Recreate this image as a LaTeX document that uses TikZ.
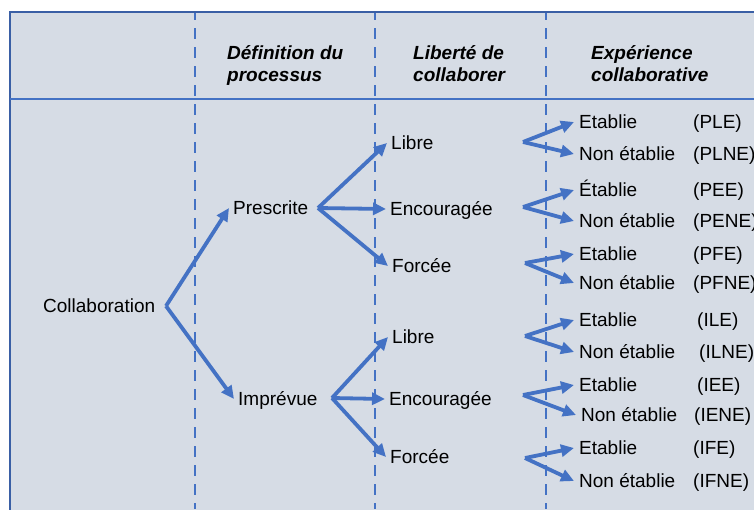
\documentclass[tikz,border=0pt]{standalone}
\usepackage{fontspec}
\setmainfont{Liberation Sans}
\usetikzlibrary{arrows.meta}
\definecolor{bgfill}{HTML}{D6DCE5}
\definecolor{accent}{HTML}{4472C4}
\definecolor{framecol}{HTML}{3A5FA5}
\begin{document}
\begin{tikzpicture}[x=1pt,y=-1pt,
  lbl/.style={font=\fontsize{19}{22}\selectfont, anchor=west, inner xsep=4pt, inner ysep=0pt, text height=13.6pt, text depth=0pt},
  lblt/.style={lbl, inner xsep=5pt},
  code/.style={lbl, inner xsep=0pt},
  hdr/.style={font=\fontsize{19}{22}\selectfont\bfseries\itshape, anchor=north west, inner sep=0pt, align=left},
  arr/.style={draw=accent, line width=3.8pt, -{Triangle[length=13pt,width=12pt]}, fill=accent},
  sep/.style={draw=accent, line width=2.6pt, dash pattern=on 11pt off 8pt, dash phase=4pt}
]
\useasboundingbox (0,0) rectangle (754,509);
\clip (0,0) rectangle (754,509);
% frame
\fill[bgfill] (10,12) rectangle (760,515);
\draw[framecol, line width=2.6pt] (10,515) -- (10,12) -- (760,12);
\draw[accent, line width=1.8pt] (10,99) -- (760,99);
\draw[sep] (195,13) -- (195,509);
\draw[sep] (375,13) -- (375,509);
\draw[sep] (546,13) -- (546,509);
% headers
\node[hdr] (h1) at (227,45) {Définition du\\processus};
\node[hdr] (h2) at (413,45) {Liberté de\\collaborer};
\node[hdr] (h3) at (591,45) {Expérience\\collaborative};
% level 1
\node[lbl] (collab) at (39,306) {Collaboration};
\coordinate (b0) at (166,306);
% level 2
\node[lbl] (presc) at (229,208) {Prescrite};
\node[lbl] (impr) at (234,399) {Imprévue};
\draw[arr] (b0) -- (presc.west);
\draw[arr] (b0) -- (impr.west);
% level 3 (Prescrite)
\coordinate (bP) at (318,208);
\node[lbl] (PL) at (387,143) {Libre};
\node[lbl] (PE) at (386,209) {Encouragée};
\node[lbl] (PF) at (388,266) {Forcée};
\draw[arr] (bP) -- (PL.west);
\draw[arr] (bP) -- (PE.west);
\draw[arr] (bP) -- (PF.west);
% level 3 (Imprévue)
\coordinate (bI) at (332,398);
\node[lbl] (IL) at (388,337) {Libre};
\node[lbl] (IE) at (385,399) {Encouragée};
\node[lbl] (IF) at (386,457) {Forcée};
\draw[arr] (bI) -- (IL.west);
\draw[arr] (bI) -- (IE.west);
\draw[arr] (bI) -- (IF.west);
% level 4
\coordinate (bPL) at (523,142);
\node[lblt] (PLE) at (574,122) {Etablie};
\node[lblt] (PLNE) at (574,154) {Non établie};
\node[code] (cPLE) at (693,122) {(PLE)};
\node[code] (cPLNE) at (693,154) {(PLNE)};
\draw[arr] (bPL) -- (PLE.west);
\draw[arr] (bPL) -- (PLNE.west);

\coordinate (bPE) at (523,207);
\node[lblt] (PEE) at (574,190) {Établie};
\node[lblt] (PENE) at (574,221) {Non établie};
\node[code] (cPEE) at (693,190) {(PEE)};
\node[code] (cPENE) at (693,221) {(PENE)};
\draw[arr] (bPE) -- (PEE.west);
\draw[arr] (bPE) -- (PENE.west);

\coordinate (bPF) at (525,263);
\node[lblt] (PFE) at (574,254) {Etablie};
\node[lblt] (PFNE) at (574,283) {Non établie};
\node[code] (cPFE) at (693,254) {(PFE)};
\node[code] (cPFNE) at (693,283) {(PFNE)};
\draw[arr] (bPF) -- (PFE.west);
\draw[arr] (bPF) -- (PFNE.west);

\coordinate (bIL) at (525,336);
\node[lblt] (ILE) at (574,320) {Etablie};
\node[lblt] (ILNE) at (574,352) {Non établie};
\node[code] (cILE) at (697,320) {(ILE)};
\node[code] (cILNE) at (699,352) {(ILNE)};
\draw[arr] (bIL) -- (ILE.west);
\draw[arr] (bIL) -- (ILNE.west);

\coordinate (bIE) at (523,395);
\node[lblt] (IEE) at (574,385) {Etablie};
\node[lblt] (IENE) at (576,415) {Non établie};
\node[code] (cIEE) at (697,385) {(IEE)};
\node[code] (cIENE) at (694,415) {(IENE)};
\draw[arr] (bIE) -- (IEE.west);
\draw[arr] (bIE) -- (IENE.west);

\coordinate (bIF) at (525,458);
\node[lblt] (IFE) at (574,448) {Etablie};
\node[lblt] (IFNE) at (574,481) {Non établie};
\node[code] (cIFE) at (693,448) {(IFE)};
\node[code] (cIFNE) at (693,481) {(IFNE)};
\draw[arr] (bIF) -- (IFE.west);
\draw[arr] (bIF) -- (IFNE.west);
\end{tikzpicture}
\end{document}
